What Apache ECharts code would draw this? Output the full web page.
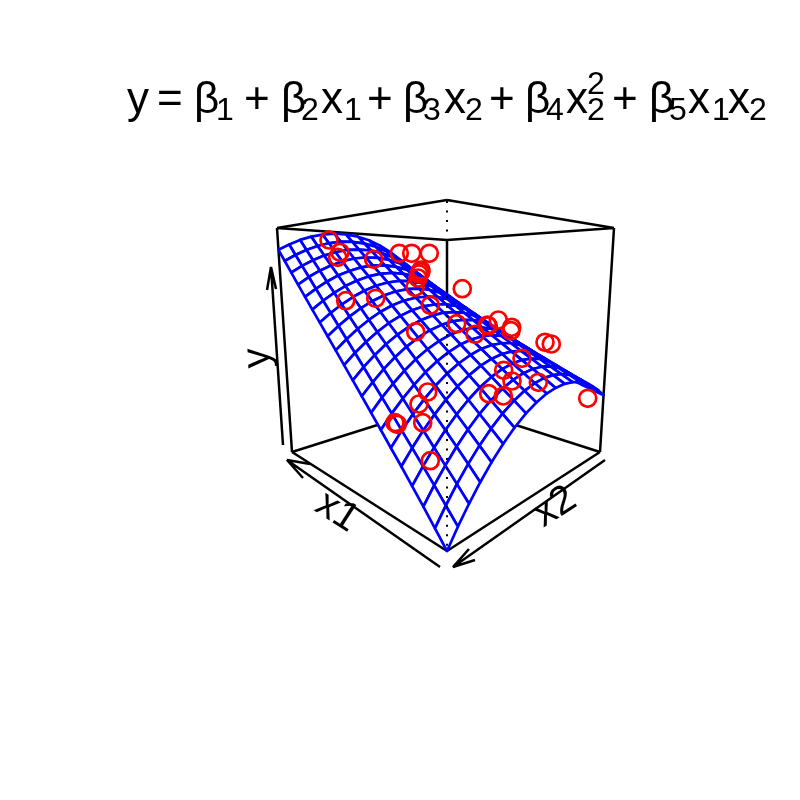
<!DOCTYPE html>
<html><head><meta charset="utf-8"><style>html,body{margin:0;background:#fff}#c{width:800px;height:800px}</style>
<script src="https://cdn.jsdelivr.net/npm/echarts@6/dist/echarts.min.js"></script></head><body><div id="c"></div>
<script>
const pointsX=[329,340,337.7,373.7,399.3,411.7,429.3,421,420.7,419,418,415,430.3,345.7,375.7,415.7,462.3,456.7,475,498.3,487.3,488.3,511.7,511,545,551.3,522,503.7,512,538.3,488.7,503.3,587.7,427.7,419,422.7,395,397.3,430.3];
const pointsY=[240,252.3,257.3,259.3,253.3,253.3,253.3,270,272,274,278,287.3,305.3,300.7,298.3,331.7,288.7,323.7,334.3,320,325,326,327.3,330.7,342.3,344,358.3,370.3,381,382.3,393.7,396,398.3,392,404,422.7,422.7,424.3,460.7];
// position of each wire along the x2 axis, 0 at the right corner of the box and 1 at the front corner
const gridS=[0,.0475,.0975,.15,.205,.264,.325,.391,.454,.52,.582,.648,.71,.776,.835,.888,.943,1];
const NU=19;
// surface height (fraction of box height), one list per gridS wire, 20 values along x1
const surfaceColumns=[
[0,.048,.096,.144,.192,.239,.287,.335,.383,.431,.479,.527,.575,.623,.670,.718,.766,.814,.862,.910],
[.055,.101,.148,.194,.240,.286,.333,.379,.425,.472,.518,.564,.610,.657,.703,.749,.796,.842,.888,.934],
[.108,.153,.197,.242,.287,.331,.376,.420,.465,.510,.554,.599,.643,.688,.733,.777,.822,.866,.911,.956],
[.159,.202,.245,.288,.330,.373,.416,.459,.502,.545,.587,.630,.673,.716,.759,.802,.844,.887,.930,.973],
[.207,.248,.289,.330,.371,.412,.453,.494,.535,.576,.617,.658,.699,.740,.780,.821,.862,.903,.944,.985],
[.252,.291,.330,.369,.408,.447,.486,.525,.564,.603,.642,.681,.720,.759,.798,.837,.876,.915,.954,.993],
[.292,.329,.366,.403,.439,.476,.513,.550,.587,.624,.661,.698,.735,.772,.809,.845,.882,.919,.956,.993],
[.327,.362,.396,.431,.466,.500,.535,.570,.604,.639,.674,.708,.743,.778,.813,.847,.882,.917,.951,.986],
[.353,.386,.418,.451,.483,.516,.548,.581,.614,.646,.679,.711,.744,.776,.809,.841,.874,.906,.939,.972],
[.373,.403,.433,.463,.494,.524,.554,.585,.615,.645,.676,.706,.736,.767,.797,.827,.858,.888,.918,.949],
[.383,.412,.440,.468,.496,.525,.553,.581,.609,.637,.666,.694,.722,.750,.779,.807,.835,.863,.892,.920],
[.387,.413,.439,.465,.491,.517,.543,.569,.595,.621,.647,.673,.699,.725,.751,.777,.803,.829,.855,.881],
[.383,.407,.431,.455,.479,.503,.527,.551,.574,.598,.622,.646,.670,.694,.718,.742,.766,.790,.814,.837],
[.371,.393,.415,.436,.458,.480,.501,.523,.545,.566,.588,.610,.631,.653,.675,.696,.718,.740,.761,.783],
[.354,.373,.393,.413,.432,.452,.472,.491,.511,.531,.550,.570,.590,.609,.629,.649,.669,.688,.708,.728],
[.332,.350,.368,.386,.404,.422,.440,.458,.475,.493,.511,.529,.547,.565,.583,.601,.619,.636,.654,.672],
[.305,.321,.337,.353,.369,.385,.401,.417,.433,.449,.465,.481,.497,.513,.529,.545,.561,.577,.593,.609],
[.270,.284,.298,.312,.326,.341,.355,.369,.383,.397,.411,.425,.439,.453,.468,.482,.496,.510,.524,.538]];
const NS=gridS.length-1;
const bottomQuad=[[447,551],[600,452],[447,403],[292,452]];
const topQuad=[[447,200],[614,228],[447,240],[277,228]];
function sq2q(q){const [x0,y0]=q[0],[x1,y1]=q[1],[x2,y2]=q[2],[x3,y3]=q[3];
 const dx1=x1-x2,dx2=x3-x2,sx=x0-x1+x2-x3,dy1=y1-y2,dy2=y3-y2,sy=y0-y1+y2-y3;
 const d=dx1*dy2-dx2*dy1,g=(sx*dy2-dx2*sy)/d,h=(dx1*sy-sx*dy1)/d;
 const a=x1-x0+g*x1,b=x3-x0+h*x3,c=x0,dd=y1-y0+g*y1,e=y3-y0+h*y3,f=y0;
 return (s,u)=>{const w=g*s+h*u+1;return [(a*s+b*u+c)/w,(dd*s+e*u+f)/w];};}
const hb=sq2q(bottomQuad),ht=sq2q(topQuad);
function proj(i,j){const u=i/NU,s=gridS[j],w=surfaceColumns[j][i],k=1.09,f=w/(k-(k-1)*w),b=hb(s,u),t=ht(s,u);return [b[0]+(t[0]-b[0])*f,b[1]+(t[1]-b[1])*f];}
const cells=[];for(let i=NU-1;i>=0;i--)for(let j=NS-1;j>=0;j--)cells.push([i,j]);
const boxSegs=[[[277,228],[447,200]],[[447,200],[614,228]],[[277,228],[447,240]],[[447,240],[614,228]],[[277,228],[292,452]],[[614,228],[600,452]],[[292,452],[447,403]],[[600,452],[447,403]],[[447,240],[447,403]],[[292,452],[447,551]],[[600,452],[447,551]]];
const arrowSegs=[[[283,445],[271,267]],[[267,290],[271,267],[276,289]],[[440,567],[287,460]],[[303,478],[287,460],[310,464]],[[605,460],[453,567]],[[475,560],[453,567],[469,549]]];
const dotted=[[447,201],[447,551]];
const sep=segs=>{const o=[];segs.forEach(s=>{s.forEach(p=>o.push(p));o.push(['-','-']);});return o;};
const mk=(t,x,y,fs,fam)=>({type:'text',x,y:y-0.86*fs,style:{text:t,fontSize:fs,fontFamily:fam||'Liberation Sans',fill:'#000'}});
const M=44,S=32,B=117,SB=123;
const pieces=[['y',127,B,M],['=',157,B,M],['β',194,B,M],['1',216,SB,S],['+',244,B,M],['β',281,B,M],['2',301,SB,S],['x',321,B,M],['1',344,SB,S],['+',367,B,M],['β',403,B,M],['3',423,SB,S],['x',444,B,M],['2',465,SB,S],['+',489,B,M],['β',525,B,M],['4',546,SB,S],['x',566,B,M],['2',587,97,S],['2',587,SB,S],['+',612,B,M],['β',649,B,M],['5',669,SB,S],['x',688,B,M],['1',712,SB,S],['x',728,B,M],['2',749,SB,S]];
const labels=[['x1',337,512,-0.57],['x2',555,507,0.57],['y',258,358,1.62]];
const chart=echarts.init(document.getElementById('c'),null,{renderer:'canvas'});
const lineS=(data,w,extra)=>Object.assign({type:'line',data,showSymbol:false,symbol:'none',connectNulls:false,silent:true,clip:false,animation:false,lineStyle:{color:'#000',width:w}},extra||{});
chart.setOption({animation:false,grid:{left:0,right:0,top:0,bottom:0},
 xAxis:{type:'value',min:0,max:800,show:false},yAxis:{type:'value',min:0,max:800,inverse:true,show:false},
 series:[
  lineS(sep(boxSegs),2.5,{z:1}),
  {type:'custom',coordinateSystem:'cartesian2d',z:2,clip:false,silent:true,animation:false,data:cells,encode:{x:0,y:1},
   renderItem:(p,api)=>{const i=api.value(0),j=api.value(1);const pts=[[i,j],[i+1,j],[i+1,j+1],[i,j+1]].map(q=>api.coord(proj(q[0],q[1])));
    return {type:'polygon',shape:{points:pts},style:{fill:'#fff',stroke:'#0000ff',lineWidth:2.7,lineJoin:'round'}};}},
  lineS(sep(arrowSegs),2.5,{z:3}),
  lineS(dotted,2,{z:4,lineStyle:{color:'#000',width:2,type:[2,7.52]}}),
  {type:'scatter',z:5,silent:true,animation:false,clip:false,symbol:'circle',symbolSize:17,data:pointsX.map((x,i)=>[x,pointsY[i]]),itemStyle:{color:'rgba(0,0,0,0)',borderColor:'#ff0000',borderWidth:2.7,opacity:1}}
 ],
 graphic:{elements:pieces.map(p=>mk(p[0],p[1],p[2],p[3])).concat(labels.map(l=>({type:'text',x:l[1],y:l[2],rotation:l[3],style:{text:l[0],fontSize:40,fontFamily:'Liberation Sans',fill:'#000',align:'center',verticalAlign:'middle'}})))}
});
</script></body></html>
